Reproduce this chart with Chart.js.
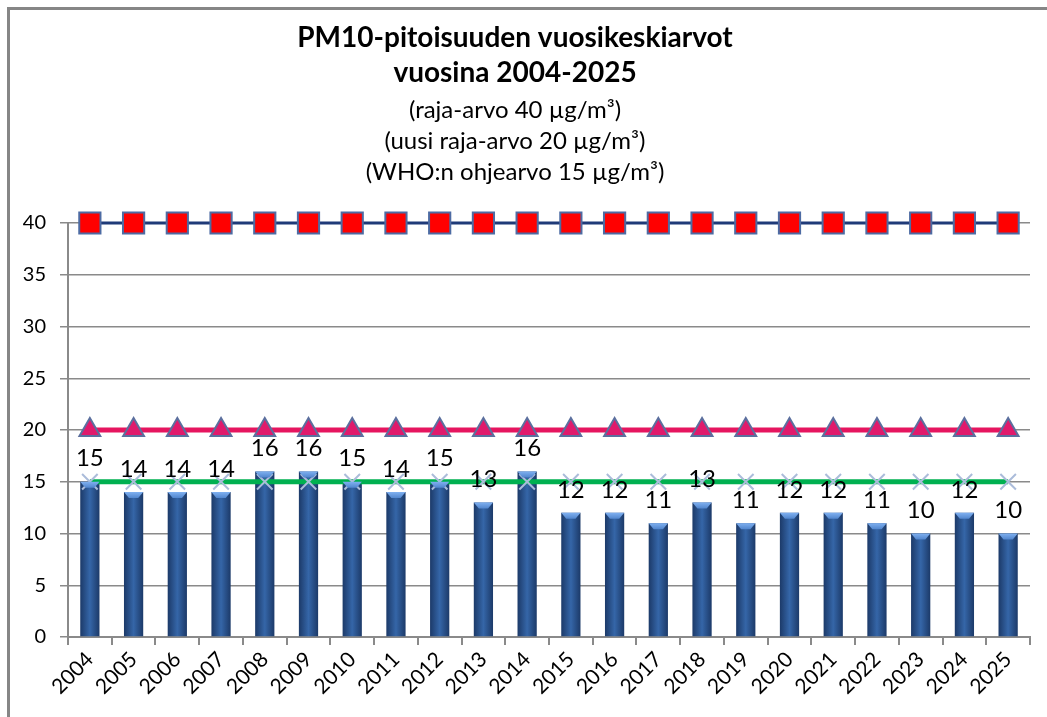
<!DOCTYPE html>
<html>
<head>
<meta charset="utf-8">
<script src="https://cdn.jsdelivr.net/npm/chart.js@4.4.1/dist/chart.umd.min.js"></script>
<style>
  html, body { margin: 0; padding: 0; background: #fff; }
  #wrap { position: absolute; left: 0; top: 0; width: 1047px; height: 717px; }
</style>
</head>
<body>
<div id="wrap"><canvas id="pmChart" width="1047" height="717"></canvas></div>
<script>
// Vuodet (kategoriat)
const years = ['2004', '2005', '2006', '2007', '2008', '2009', '2010', '2011', '2012', '2013', '2014',
               '2015', '2016', '2017', '2018', '2019', '2020', '2021', '2022', '2023', '2024', '2025'];

// PM10 vuosikeskiarvot (µg/m3)
const pm10 = [15, 14, 14, 14, 16, 16, 15, 14, 15, 13, 16, 12, 12, 11, 13, 11, 12, 12, 11, 10, 12, 10];

// Raja-arvot
const rajaArvo = [40, 40, 40, 40, 40, 40, 40, 40, 40, 40, 40, 40, 40, 40, 40, 40, 40, 40, 40, 40, 40, 40];
const uusiRajaArvo = [20, 20, 20, 20, 20, 20, 20, 20, 20, 20, 20, 20, 20, 20, 20, 20, 20, 20, 20, 20, 20, 20];
const whoOhjearvo = [15, 15, 15, 15, 15, 15, 15, 15, 15, 15, 15, 15, 15, 15, 15, 15, 15, 15, 15, 15, 15, 15];

const titleLines = ['PM10-pitoisuuden vuosikeskiarvot', 'vuosina 2004-2025'];
const subtitleLines = ['(raja-arvo 40 µg/m³)', '(uusi raja-arvo 20 µg/m³)', '(WHO:n ohjearvo 15 µg/m³)'];

const FONT = "Lato, 'Open Sans', sans-serif";
const GRID = '#8a8a8a';

// Kehys vasemmalle ja ylös
const framePlugin = {
    id: 'frame',
    beforeDraw(chart) {
        const c = chart.ctx;
        c.save();
        c.strokeStyle = '#868686';
        c.lineWidth = 3;
        c.beginPath();
        c.moveTo(8.5, 717);
        c.lineTo(8.5, 8.5);
        c.lineTo(1047, 8.5);
        c.stroke();
        c.restore();
    }
};

// Pylväiden arvot ja yläreunan viiste
const barLabelPlugin = {
    id: 'barLabels',
    afterDatasetsDraw(chart) {
        const c = chart.ctx;
        const meta = chart.getDatasetMeta(0);
        c.save();
        meta.data.forEach(function(bar) {
            const half = bar.width / 2;
            const g = c.createLinearGradient(0, bar.y, 0, bar.y + 7);
            g.addColorStop(0, '#7fb0f0');
            g.addColorStop(1, '#4a7fc8');
            c.fillStyle = g;
            c.beginPath();
            c.moveTo(bar.x - half, bar.y);
            c.lineTo(bar.x + half, bar.y);
            c.lineTo(bar.x + half - 5, bar.y + 6);
            c.lineTo(bar.x - half + 5, bar.y + 6);
            c.closePath();
            c.fill();
        });
        c.fillStyle = '#000';
        c.font = '24px ' + FONT;
        c.textAlign = 'center';
        c.textBaseline = 'middle';
        meta.data.forEach(function(bar, i) {
            c.fillText(String(pm10[i]), bar.x, bar.y - 23);
        });
        c.restore();
    }
};

function barGradient(context) {
    const chart = context.chart;
    const xs = chart.scales.x;
    if (!xs || context.dataIndex === undefined) {
        return '#2a5597';
    }
    const x = xs.getPixelForValue(context.dataIndex);
    if (!isFinite(x)) {
        return '#2a5597';
    }
    const g = chart.ctx.createLinearGradient(x - 10, 0, x + 10, 0);
    g.addColorStop(0, '#1b3866');
    g.addColorStop(0.5, '#3566a8');
    g.addColorStop(1, '#1b3866');
    return g;
}

const ctx = document.getElementById('pmChart').getContext('2d');
const pmChart = new Chart(ctx, {
    data: {
        labels: years,
        datasets: [
            {
                type: 'bar',
                label: 'PM10',
                data: pm10,
                backgroundColor: barGradient,
                barPercentage: 0.44,
                categoryPercentage: 1,
                order: 4
            },
            {
                type: 'line',
                label: 'raja-arvo',
                data: rajaArvo,
                borderColor: '#1f3a78',
                borderWidth: 3,
                pointStyle: 'rect',
                pointRadius: 15,
                pointBackgroundColor: '#ff0000',
                pointBorderColor: '#4d6ba3',
                pointBorderWidth: 2,
                order: 1
            },
            {
                type: 'line',
                label: 'uusi raja-arvo',
                data: uusiRajaArvo,
                borderColor: '#e6155f',
                borderWidth: 5,
                pointStyle: 'triangle',
                pointRadius: 12,
                pointBackgroundColor: '#e01a6c',
                pointBorderColor: '#5b6f9e',
                pointBorderWidth: 2,
                order: 2
            },
            {
                type: 'line',
                label: 'WHO',
                data: whoOhjearvo,
                borderColor: '#00b050',
                borderWidth: 5,
                pointStyle: 'crossRot',
                pointRadius: 11,
                pointBorderColor: '#abbcda',
                pointBorderWidth: 2,
                order: 3
            }
        ]
    },
    options: {
        responsive: false,
        animation: false,
        clip: false,
        layout: { padding: { left: 0, right: 17, top: 0, bottom: 0 } },
        plugins: {
            legend: { display: false },
            tooltip: { enabled: false },
            title: {
                display: true,
                text: titleLines,
                color: '#000',
                font: { family: FONT, size: 28, weight: 'bold', lineHeight: 35 / 28 },
                padding: { top: 20, bottom: 0 }
            },
            subtitle: {
                display: true,
                text: subtitleLines,
                color: '#000',
                font: { family: FONT, size: 24, weight: 'normal', lineHeight: 31 / 24 },
                padding: { top: 5, bottom: 35 }
            }
        },
        scales: {
            x: {
                offset: true,
                grid: { offset: true, drawOnChartArea: false, color: GRID, lineWidth: 2, tickLength: 8 },
                border: { color: GRID, width: 2 },
                ticks: {
                    color: '#000',
                    font: { family: FONT, size: 21 },
                    minRotation: 45,
                    maxRotation: 45,
                    padding: 2
                },
                afterFit(scale) { scale.height = 80; }
            },
            y: {
                min: 0,
                max: 40,
                grid: { color: GRID, lineWidth: 1.5, tickLength: 8 },
                border: { color: GRID, width: 2 },
                ticks: {
                    stepSize: 5,
                    color: '#000',
                    font: { family: FONT, size: 20 },
                    padding: 14
                },
                afterFit(scale) { scale.width = 68; }
            }
        }
    },
    plugins: [framePlugin, barLabelPlugin]
});
</script>
</body>
</html>
